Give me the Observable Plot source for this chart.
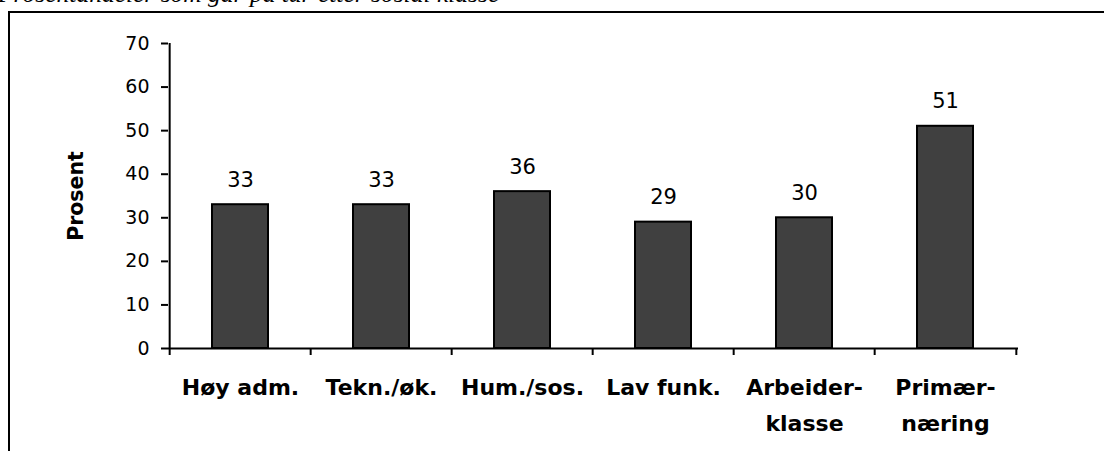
<!DOCTYPE html>
<html>
<head>
<meta charset="utf-8">
<script src="https://cdn.jsdelivr.net/npm/d3@7"></script>
<script src="https://cdn.jsdelivr.net/npm/@observablehq/plot@0.6"></script>
<style>
  html, body { margin: 0; padding: 0; background: #fff; overflow: hidden; width: 1104px; height: 451px; }
  #wrap { position: relative; width: 1104px; height: 451px; }
  #title { position: absolute; left: -2px; top: -21px; font-family: "Liberation Serif", serif; font-style: italic; font-size: 25.5px; white-space: nowrap; color: #000; }
  #box { position: absolute; left: 8px; top: 11px; width: 1200px; height: 600px; border: 2px solid #000; box-sizing: border-box; }
  #chart { position: absolute; left: 0; top: 0; }
</style>
</head>
<body>
<div id="wrap">
  <div id="title">Prosentandeler som går på tur etter sosial klasse</div>
  <div id="box"></div>
  <div id="chart"></div>
</div>
<script>
const categories = ["Høy adm.", "Tekn./øk.", "Hum./sos.", "Lav funk.", "Arbeider-\nklasse", "Primær-\nnæring"];
const values = [33, 33, 36, 29, 30, 51];
const yTicks = [0, 10, 20, 30, 40, 50, 60, 70];
const yLabel = "Prosent";

const data = categories.map((c, i) => ({cat: c, val: values[i]}));

const W = 1104, H = 451;
const mL = 168, mR = 86, mT = 43, mB = 103;
const step = (W - mL - mR) / categories.length;
const yMid = (yTicks[0] + yTicks[yTicks.length - 1]) / 2;

const plot = Plot.plot({
  width: W,
  height: H,
  marginLeft: mL,
  marginRight: mR,
  marginTop: mT,
  marginBottom: mB,
  style: {fontFamily: "DejaVu Sans", background: "transparent", color: "#000"},
  x: {domain: categories, paddingInner: 0.6, paddingOuter: 0.3, axis: null},
  y: {domain: [0, 70], axis: null},
  marks: [
    Plot.barY(data, {x: "cat", y: "val", fill: "#404040", stroke: "#000", strokeWidth: 2}),
    Plot.text(data, {x: "cat", y: "val", text: d => String(d.val), dy: -18, lineAnchor: "bottom", fontSize: 21, fill: "#000"}),
    Plot.axisY({ticks: yTicks, tickSize: 7, tickPadding: 12, fontSize: 19, strokeWidth: 2, label: null, tickFormat: d => String(d)}),
    Plot.ruleX([categories[0]], {x: d => d, y1: 0, y2: 70, dx: -step / 2, stroke: "#000", strokeWidth: 2}),
    Plot.ruleY([0], {stroke: "#000", strokeWidth: 2}),
    Plot.ruleX(categories, {x: d => d, y1: 0, y2: 0, insetBottom: -7, dx: -step / 2, stroke: "#000", strokeWidth: 2}),
    Plot.ruleX([categories[categories.length - 1]], {x: d => d, y1: 0, y2: 0, insetBottom: -7, dx: step / 2, stroke: "#000", strokeWidth: 2}),
    Plot.text(categories, {x: d => d, y: 0, text: d => d, dy: 22, lineAnchor: "top", fontSize: 22, fontWeight: "bold", lineHeight: 1.6, fill: "#000"}),
    Plot.text([yLabel], {frameAnchor: "left", y: () => yMid, text: d => d, rotate: -90, dx: -92, textAnchor: "middle", lineAnchor: "middle", fontSize: 20.5, fontWeight: "bold", fill: "#000"})
  ]
});
document.getElementById("chart").appendChild(plot);
</script>
</body>
</html>
